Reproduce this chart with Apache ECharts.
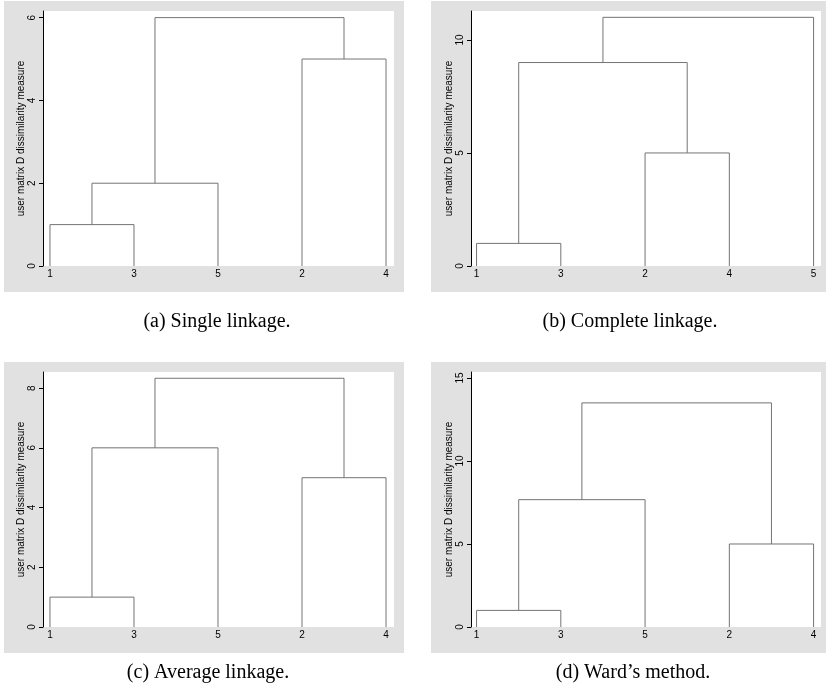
<!DOCTYPE html>
<html>
<head>
<meta charset="utf-8">
<script src="https://cdn.jsdelivr.net/npm/echarts@6/dist/echarts.min.js"></script>
<style>
html,body{margin:0;padding:0;background:#fff;}
#chart{width:826px;height:696px;}
</style>
</head>
<body>
<div id="chart"></div>
<script>
// ---- Data ----
// Leaf order along the x axis for each dendrogram
const singleLeaves   = ['1','3','5','2','4'];
const completeLeaves = ['1','3','2','4','5'];
const averageLeaves  = ['1','3','5','2','4'];
const wardLeaves     = ['1','3','5','2','4'];

// Merges: [left node id, right node id, height]; ids 0-4 are leaves, 5+ are earlier merges
const singleMerges   = [[0,1,1],[5,2,2],[3,4,5],[6,7,6]];
const completeMerges = [[0,1,1],[2,3,5],[5,6,9],[7,4,11]];
const averageMerges  = [[0,1,1],[5,2,6],[3,4,5],[6,7,8.33]];
const wardMerges     = [[0,1,1],[5,2,7.67],[3,4,5],[6,7,13.5]];

// Y axis tick labels
const singleTicks   = [0,2,4,6];
const completeTicks = [0,5,10];
const averageTicks  = [0,2,4,6,8];
const wardTicks     = [0,5,10,15];

const captions = ['(a) Single linkage.','(b) Complete linkage.','(c) Average linkage.','(d) Ward\u2019s method.'];
const yTitle = 'user matrix D dissimilarity measure';

// ---- Layout ----
const panels = [
  {leaves: singleLeaves,   merges: singleMerges,   ticks: singleTicks,   ymax: 6.16,  grid:{left:43, top:11,  width:351, height:255}, frame:[4,1],   xr:[0.917,5.095], cap:[217,322]},
  {leaves: completeLeaves, merges: completeMerges, ticks: completeTicks, ymax: 11.28, grid:{left:471,top:11,  width:350, height:255}, frame:[431,1], xr:[0.934,5.088], cap:[630,322]},
  {leaves: averageLeaves,  merges: averageMerges,  ticks: averageTicks,  ymax: 8.54,  grid:{left:43, top:372, width:351, height:255}, frame:[4,362], xr:[0.917,5.095], cap:[208,673]},
  {leaves: wardLeaves,     merges: wardMerges,     ticks: wardTicks,     ymax: 15.36, grid:{left:471,top:372, width:350, height:255}, frame:[431,362],xr:[0.934,5.088], cap:[633,673]}
];

const LABEL_FONT = 'Liberation Sans, Arial, Helvetica, sans-serif';
const grids = [], xAxes = [], yAxes = [], series = [], graphics = [];

panels.forEach((p, i) => {
  graphics.push({type:'rect', z:-10, shape:{x:p.frame[0], y:p.frame[1], width:400, height:291}, style:{fill:'#e1e1e1'}, silent:true});
  graphics.push({type:'text', x:p.cap[0], y:p.cap[1], style:{text:captions[i], fill:'#000', font:'20px "Liberation Serif", "Times New Roman", serif', align:'center', verticalAlign:'middle'}});

  grids.push(Object.assign({show:true, backgroundColor:'#fff', borderWidth:0}, p.grid));

  const leaves = p.leaves;
  xAxes.push({
    type:'value', gridIndex:i, min:p.xr[0], max:p.xr[1],
    axisLine:{show:false}, axisTick:{show:false}, splitLine:{show:false},
    axisLabel:{
      customValues: leaves.map((_, k) => k + 1),
      formatter: v => leaves[Math.round(v) - 1] || '',
      color:'#000', fontSize:10, fontFamily:LABEL_FONT, margin:3
    }
  });
  yAxes.push({
    type:'value', gridIndex:i, min:0, max:p.ymax,
    name: yTitle, nameLocation:'middle', nameRotate:90, nameGap:14,
    nameTextStyle:{color:'#000', fontSize:10, fontFamily:LABEL_FONT},
    axisLine:{show:true, lineStyle:{color:'#000', width:1}},
    axisTick:{show:true, length:4, lineStyle:{color:'#000'}, customValues:p.ticks},
    splitLine:{show:false},
    axisLabel:{customValues:p.ticks, rotate:90, color:'#000', fontSize:10, fontFamily:LABEL_FONT, margin:6}
  });

  // node coordinates (data space)
  const nodes = leaves.map((_, k) => [k + 1, 0]);
  p.merges.forEach(m => {
    const a = nodes[m[0]], b = nodes[m[1]], h = m[2];
    series.push({
      type:'line', xAxisIndex:i, yAxisIndex:i, symbol:'none', silent:true, animation:false,
      lineStyle:{color:'#747474', width:1},
      data:[[a[0], a[1]], [a[0], h], [b[0], h], [b[0], b[1]]]
    });
    nodes.push([(a[0] + b[0]) / 2, h]);
  });
});

const chart = echarts.init(document.getElementById('chart'), null, {renderer:'canvas'});
chart.setOption({
  animation:false,
  backgroundColor:'#fff',
  grid:grids, xAxis:xAxes, yAxis:yAxes, series:series, graphic:graphics
});
</script>
</body>
</html>
